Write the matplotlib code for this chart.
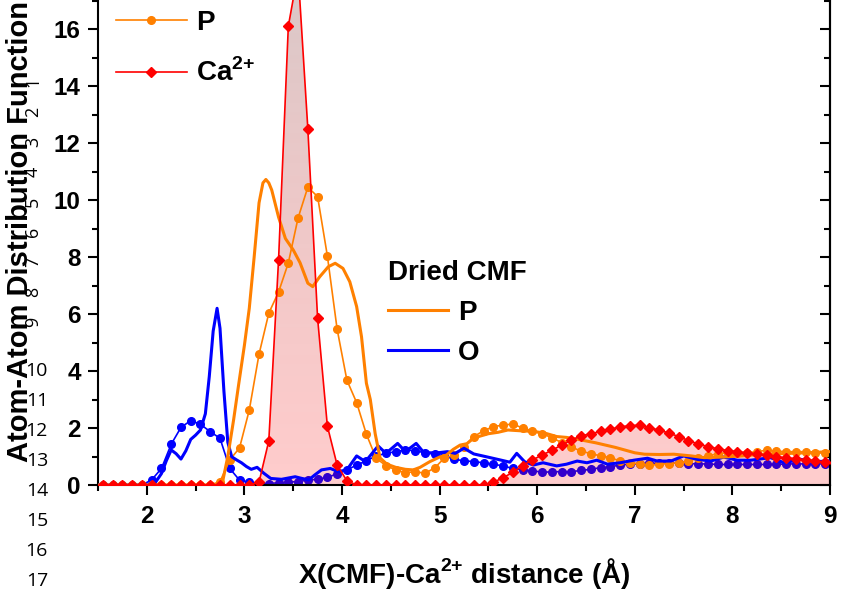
import matplotlib
matplotlib.use('Agg')
import matplotlib.pyplot as plt
import numpy as np
from matplotlib.ticker import MultipleLocator
from matplotlib.patches import Polygon
from matplotlib.lines import Line2D

plt.rcParams['font.family'] = ['Liberation Sans', 'DejaVu Sans']
plt.rcParams['font.weight'] = 'bold'
plt.rcParams['axes.labelweight'] = 'bold'
plt.rcParams['mathtext.fontset'] = 'custom'
plt.rcParams['mathtext.rm'] = 'Liberation Sans:bold'
plt.rcParams['mathtext.bf'] = 'Liberation Sans:bold'

# hydrated CMF: sampled every 0.1 A starting at 1.55
r_hyd = np.round(np.arange(1.55, 9.06, 0.1), 2)
ca_hyd = [0, 0, 0, 0, 0, 0, 0, 0, 0, 0, 0, 0, 0, 0, 0, 0,
          0.1, 1.55, 7.9, 16.1, 18.0, 12.5, 5.85, 2.07, 0.7, 0.15,
          0, 0, 0, 0, 0, 0, 0, 0, 0, 0, 0, 0, 0, 0,
          0.1, 0.25, 0.45, 0.68, 0.88, 1.05, 1.22, 1.4, 1.58, 1.72,
          1.8, 1.88, 1.96, 2.04, 2.08, 2.1, 2.0, 1.93, 1.82, 1.7,
          1.56, 1.44, 1.35, 1.27, 1.21, 1.17, 1.13, 1.09, 1.04, 0.99,
          0.96, 0.92, 0.88, 0.84, 0.8, 0.78]
p_hyd = [0, 0, 0, 0, 0, 0, 0, 0, 0, 0, 0, 0,
         0.12, 0.88, 1.3, 2.63,
         4.59, 6.03, 6.77, 7.79, 9.37, 10.45, 10.12, 8.04, 5.47,
         3.68, 2.89, 1.78, 0.94, 0.68, 0.53, 0.43, 0.47, 0.41, 0.6,
         0.95, 1.05, 1.35, 1.7, 1.9, 2.05, 2.1, 2.14, 2.0, 1.9,
         1.8, 1.66, 1.49, 1.33, 1.19, 1.1, 1.02, 0.96, 0.84, 0.78,
         0.75, 0.69, 0.73, 0.75, 0.78, 0.84, 0.94, 1.02, 1.1, 1.13,
         1.13, 1.13, 1.17, 1.22, 1.19, 1.17, 1.17, 1.17, 1.13, 1.13,
         1.13]
o_hyd = [0, 0, 0, 0, 0,
         0.18, 0.58, 1.43, 2.02, 2.26, 2.13, 1.87, 1.64, 0.58, 0.17,
         0.1, 0.05, 0.05, 0.08, 0.1, 0.12, 0.17, 0.2, 0.27, 0.39,
         0.53, 0.7, 0.85, 1.02, 1.11, 1.17, 1.23, 1.2, 1.13, 1.09,
         1.02, 0.9, 0.85, 0.82, 0.78, 0.73, 0.67, 0.58, 0.53, 0.5,
         0.45, 0.46, 0.47, 0.47, 0.51, 0.55, 0.61, 0.64, 0.7, 0.73,
         0.75, 0.76, 0.77, 0.77, 0.76, 0.75, 0.74, 0.74, 0.72, 0.72,
         0.72, 0.72, 0.72, 0.72, 0.72, 0.74, 0.74, 0.74, 0.74, 0.74,
         0.74]

# dried CMF
r_p_dry = [1.5, 2.0, 2.5, 2.72, 2.78, 2.83, 2.89, 2.94, 3.0, 3.05,
           3.1, 3.15, 3.19, 3.22, 3.25, 3.28, 3.35, 3.42, 3.5, 3.57,
           3.65, 3.7, 3.77, 3.86, 3.93, 4.01, 4.08, 4.15, 4.2, 4.25,
           4.29, 4.34, 4.39, 4.46, 4.55, 4.65, 4.73, 4.8, 4.9, 5.0,
           5.07, 5.14, 5.21, 5.28, 5.35, 5.5, 5.6, 5.7, 5.84, 5.97,
           6.1, 6.2, 6.3, 6.42, 6.6, 6.8, 7.0, 7.1, 7.25, 7.4,
           7.58, 7.71, 7.9, 8.1, 8.3, 8.5, 8.75, 9.0]
p_dry = [0, 0, 0, 0, 0.17, 1.0, 2.3, 3.5, 4.9, 6.2,
         8.0, 9.9, 10.6, 10.72, 10.6, 10.35, 9.4, 8.65, 8.25, 7.8,
         7.08, 6.96, 7.3, 7.66, 7.78, 7.6, 7.13, 6.26, 5.2, 3.57,
         3.0, 1.8, 0.95, 0.73, 0.62, 0.55, 0.53, 0.62, 0.82, 0.98,
         1.05, 1.25, 1.4, 1.45, 1.65, 1.8, 1.85, 1.93, 1.9, 1.88,
         1.8, 1.7, 1.67, 1.6, 1.48, 1.32, 1.13, 1.08, 1.07, 1.08,
         1.02, 0.96, 0.98, 1.02, 1.08, 1.1, 1.13, 1.17]
r_o_dry = [1.5, 2.0, 2.08, 2.15, 2.2, 2.25, 2.3, 2.35, 2.4, 2.45,
           2.5, 2.55, 2.6, 2.64, 2.68, 2.72, 2.75, 2.79, 2.83, 2.87,
           2.92, 2.97, 3.02, 3.07, 3.13, 3.2, 3.27, 3.38, 3.52, 3.59,
           3.66, 3.72, 3.79, 3.88, 3.96, 4.05, 4.15, 4.24, 4.37, 4.45,
           4.57, 4.65, 4.76, 4.84, 4.98, 5.08, 5.16, 5.25, 5.35, 5.48,
           5.62, 5.72, 5.79, 5.87, 5.96, 6.06, 6.2, 6.3, 6.41, 6.51,
           6.61, 6.72, 6.85, 6.99, 7.13, 7.23, 7.37, 7.5, 7.64, 7.78,
           7.91, 8.05, 8.19, 8.39, 8.53, 8.7, 8.84, 9.0]
o_dry = [0, 0, 0.05, 0.4, 0.85, 1.23, 1.1, 0.91, 1.2, 1.6,
         1.75, 1.93, 2.5, 3.8, 5.4, 6.2, 5.5, 3.3, 1.5, 0.99,
         0.88, 0.78, 0.65, 0.55, 0.62, 0.41, 0.23, 0.2, 0.29, 0.23,
         0.18, 0.35, 0.53, 0.58, 0.47, 0.53, 1.02, 0.82, 1.37, 1.11,
         1.46, 1.17, 1.46, 1.13, 1.13, 1.17, 1.11, 1.29, 1.09, 0.99,
         0.88, 0.8, 1.11, 0.82, 0.7, 0.78, 0.67, 0.73, 0.84, 0.78,
         0.87, 0.73, 0.78, 0.87, 0.94, 0.84, 0.84, 1.02, 0.9, 0.84,
         0.98, 0.87, 0.87, 0.96, 0.78, 0.9, 0.82, 0.84]

orange = '#ff8000'
blue = '#0000ff'
red = '#ff0000'

fig = plt.figure(figsize=(8.43, 5.9), dpi=100)
ax = fig.add_axes((98 / 843, 105 / 590, 732 / 843, 18 * 28.5 / 590))

# hydrated O markers sit under the translucent Ca fill
ax.plot(r_hyd, o_hyd, color=blue, lw=1.2, marker='o', ms=5.5, zorder=1.5)

# Ca fill with a soft vertical gradient
grad = np.zeros((256, 1, 4))
t = np.linspace(0, 1, 256)
grad[:, 0, 0] = 1.0 - 0.5 * t
grad[:, 0, 1] = 0.0 + 0.28 * t
grad[:, 0, 2] = 0.0 + 0.28 * t
grad[:, 0, 3] = 0.2 + 0.1 * t
im = ax.imshow(grad, extent=[1.5, 9.0, 0, 18], origin='lower', aspect='auto',
               interpolation='bilinear', zorder=2)
verts = [(r_hyd[0], 0)] + list(zip(r_hyd, ca_hyd)) + [(r_hyd[-1], 0)]
im.set_clip_path(Polygon(verts, closed=True, transform=ax.transData))

p_line, = ax.plot(r_hyd, p_hyd, color=orange, lw=1.2, marker='o', ms=5.5, zorder=2.5)
ax.plot(r_o_dry, o_dry, color=blue, lw=2.2, zorder=3)
ax.plot(r_p_dry, p_dry, color=orange, lw=2.2, zorder=3)
ca_line, = ax.plot(r_hyd, ca_hyd, color=red, lw=1.2, marker='D', ms=5.5, zorder=4)

ax.set_xlim(1.5, 9.0)
ax.set_ylim(0, 18)
ax.xaxis.set_major_locator(MultipleLocator(1))
ax.xaxis.set_minor_locator(MultipleLocator(0.5))
ax.yaxis.set_minor_locator(MultipleLocator(1))
ax.set_yticks(np.arange(0, 17, 2))
ax.tick_params(which='major', length=7.5, width=1.5, labelsize=17.5)
ax.tick_params(which='minor', length=4.2, width=1.5)
ax.tick_params(axis='x', which='major', pad=7)
ax.tick_params(axis='y', which='major', pad=5)
for s in ax.spines.values():
    s.set_linewidth(1.5)
ax.spines['top'].set_visible(False)

sec = ax.secondary_yaxis('right')
sec.yaxis.set_major_locator(MultipleLocator(2))
sec.yaxis.set_minor_locator(MultipleLocator(1))
sec.tick_params(which='both', direction='in', labelright=False, width=1.5)
sec.tick_params(which='major', length=7)
sec.tick_params(which='minor', length=4.2)
sec.spines['right'].set_linewidth(1.5)

ax.set_xlabel('X(CMF)-Ca$^{\\mathbf{2{+}}}$ distance (Å)', fontsize=20, labelpad=20)
fig.text(20 / 843, 1 - 232 / 590, 'Atom-Atom Distribution Function', rotation=90,
         ha='center', va='center', fontsize=21)

# stray line numbers showing through on the left margin
for n in range(1, 10):
    fig.text(33 / 843, 1 - (82 + 30 * (n - 1)) / 590, str(n), rotation=90,
             ha='center', va='center', fontsize=13, fontweight='normal', family='Open Sans')
for n in range(10, 18):
    fig.text(48 / 843, 1 - (371 + 30 * (n - 10)) / 590, str(n),
             ha='right', va='center', fontsize=14, fontweight='normal', family='Open Sans')

leg1 = ax.legend(handles=[p_line, ca_line], labels=['P', 'Ca$^{\\mathbf{2{+}}}$'],
                 loc='upper left', bbox_to_anchor=(116 / 843, 1 - 10 / 590),
                 bbox_transform=fig.transFigure, frameon=False, borderpad=0,
                 borderaxespad=0, handlelength=2.55, handletextpad=0.33,
                 labelspacing=0.82, prop=dict(weight='bold', size=20))
ax.add_artist(leg1)

dry_handles = [Line2D([], [], color=orange, lw=2.2), Line2D([], [], color=blue, lw=2.2)]
leg2 = ax.legend(handles=dry_handles, labels=['P', 'O'], title='Dried CMF',
                 loc='upper left', bbox_to_anchor=(388 / 843, 1 - 260 / 590),
                 bbox_transform=fig.transFigure, frameon=False, borderpad=0,
                 borderaxespad=0, handlelength=2.15, handletextpad=0.36,
                 labelspacing=0.5, prop=dict(weight='bold', size=20),
                 title_fontproperties=dict(weight='bold', size=20), alignment='left')

fig.savefig('out.png', dpi=100)
